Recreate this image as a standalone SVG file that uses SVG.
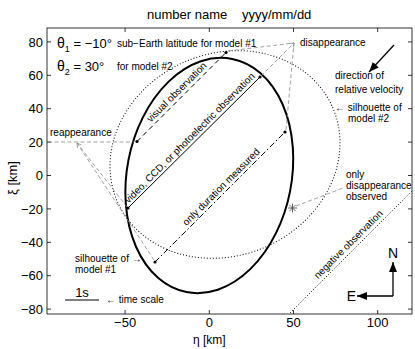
<svg xmlns="http://www.w3.org/2000/svg" width="415" height="349" viewBox="0 0 415 349">
<style>
text{font-family:"Liberation Sans",Arial,Helvetica,sans-serif;fill:#000}
.tl{font-size:13px}
.sm{font-size:10px}
.ax{stroke:#000;stroke-width:0.8;fill:none}
.gd{stroke:#8a8a8a;stroke-width:0.8;stroke-dasharray:4 2.5;fill:none}
.gh{stroke:#8a8a8a;stroke-width:0.8;fill:none}
.dot{fill:#000}
.ch{stroke:#000;stroke-width:1;fill:none}
</style>
<defs>
<marker id="fa" viewBox="0 0 10 8" refX="10" refY="4" markerWidth="10" markerHeight="8" markerUnits="userSpaceOnUse" orient="auto"><path d="M0 0 L10 4 L0 8 z" fill="#000"/></marker>
</defs>
<rect width="415" height="349" fill="#fff"/>
<text id="title" class="tl" y="19"><tspan x="147">number name</tspan><tspan x="242">yyyy/mm/dd</tspan></text>
<g id="axes">
<rect x="47" y="28" width="365" height="286" class="ax"/>
<path class="ax" d="M47 41.9h4M412 41.9h-4M47 75.3h4M412 75.3h-4M47 108.7h4M412 108.7h-4M47 142.1h4M412 142.1h-4M47 175.5h4M412 175.5h-4M47 208.9h4M412 208.9h-4M47 242.3h4M412 242.3h-4M47 275.7h4M412 275.7h-4M47 309.1h4M412 309.1h-4M125.1 314v-4M125.1 28v4M209.3 314v-4M209.3 28v4M293.5 314v-4M293.5 28v4M377.7 314v-4M377.7 28v4"/>
<g class="tl" text-anchor="end">
<text x="43" y="46.5">80</text><text x="43" y="79.9">60</text><text x="43" y="113.3">40</text><text x="43" y="146.7">20</text><text x="43" y="180.1">0</text><text x="43" y="213.5">−20</text><text x="43" y="246.9">−40</text><text x="43" y="280.3">−60</text><text x="43" y="313.7">−80</text>
</g>
<g class="tl" text-anchor="middle">
<text x="125.1" y="327">−50</text><text x="209.3" y="327">0</text><text x="293.5" y="327">50</text><text x="377.7" y="327">100</text>
<text x="209.3" y="344" font-size="12">η [km]</text>
<text transform="translate(17 178) rotate(-90)">ξ [km]</text>
</g>
</g>
<g id="silhouettes">
<ellipse id="model1" cx="209.3" cy="175.5" rx="82.3" ry="118.8" transform="rotate(11.1 209.3 175.5)" fill="none" stroke="#000" stroke-width="2"/>
<ellipse id="model2" cx="225" cy="154.5" rx="117.5" ry="101" transform="rotate(-23.7 225 154.5)" fill="none" stroke="#000" stroke-width="1" stroke-dasharray="1 2"/>
</g>
<g id="connectors">
<line class="ch" x1="137" y1="141.5" x2="226" y2="52.5" stroke-dasharray="5 3.5"/>
<line class="ch" x1="128" y1="208" x2="260" y2="77"/>
<line class="ch" x1="155" y1="262" x2="285" y2="132" stroke-dasharray="6 2.5 1.5 2.5"/>
<line class="ch" x1="290" y1="313" x2="412" y2="191" stroke-dasharray="1 2"/>
<path class="gd" d="M228 51L294 43M261 76L294 43M286 130L294 43"/>
<path class="gh" d="M289.5 43.5L294 43L293.5 47.5"/>
<path class="gd" d="M48 142H134M127 207L77 143M154 260L77 143"/>
<path class="gh" d="M77.5 148L77 143L81.5 145"/>
<path class="gd" d="M296 206L343 188"/>
<line x1="394" y1="45" x2="369" y2="72" stroke="#000" stroke-width="1.3" marker-end="url(#fa)"/>
<line x1="393" y1="296" x2="393" y2="262" stroke="#000" stroke-width="1.3" marker-end="url(#fa)"/>
<line x1="393" y1="296" x2="357" y2="296" stroke="#000" stroke-width="1.3" marker-end="url(#fa)"/>
<line x1="65" y1="300" x2="99" y2="300" stroke="#000" stroke-width="1"/>
</g>
<g id="points">
<circle class="dot" cx="137" cy="141.5" r="1.6"/><circle class="dot" cx="226" cy="52.5" r="1.6"/>
<circle class="dot" cx="128" cy="208" r="1.6"/><circle class="dot" cx="260" cy="77" r="1.6"/>
<circle class="dot" cx="155" cy="262" r="1.6"/><circle class="dot" cx="285" cy="132" r="1.6"/>
<path id="star" d="M288 208h9M292.5 203.5v9M289.3 204.8l6.4 6.4M289.3 211.2l6.4-6.4" stroke="#444" stroke-width="0.8"/>
</g>
<g id="labels">
<text x="57" y="48" font-size="13"><tspan font-size="14">θ</tspan><tspan font-size="9" dy="4">1</tspan><tspan dy="-4"> = −10°</tspan></text>
<text x="117" y="47" class="sm">sub−Earth latitude for model #1</text>
<text x="57" y="71" font-size="13"><tspan font-size="14">θ</tspan><tspan font-size="9" dy="4">2</tspan><tspan dy="-4"> = 30°</tspan></text>
<text x="117" y="70" class="sm">for model #2</text>
<text x="300" y="46" class="sm">disappearance</text>
<text x="50" y="136" class="sm">reappearance</text>
<text x="335" y="79" class="sm">direction of</text>
<text x="335" y="93" class="sm">relative velocity</text>
<text x="335" y="111" class="sm">← silhouette of</text>
<text x="348" y="122" class="sm">model #2</text>
<text x="346" y="178" class="sm">only</text>
<text x="346" y="189" class="sm">disappearance</text>
<text x="346" y="200" class="sm">observed</text>
<text x="75" y="262" class="sm">silhouette of →</text>
<text x="75" y="273" class="sm">model #1</text>
<text x="82" y="297" class="tl" text-anchor="middle">1s</text>
<text x="106" y="303" class="sm">← time scale</text>
<text x="393" y="258" font-size="14" text-anchor="middle">N</text>
<text x="356" y="301" font-size="14" text-anchor="end">E</text>
<g class="sm" text-anchor="middle">
<text transform="translate(179 94.5) rotate(-45)">visual observation</text>
<text transform="translate(191.9 140.4) rotate(-45)">video, CCD, or photoelectric observation</text>
<text transform="translate(223.5 189.3) rotate(-45)">only duration measured</text>
<text transform="translate(350.7 246.7) rotate(-45)">negative observation</text>
</g>
</g>
</svg>
